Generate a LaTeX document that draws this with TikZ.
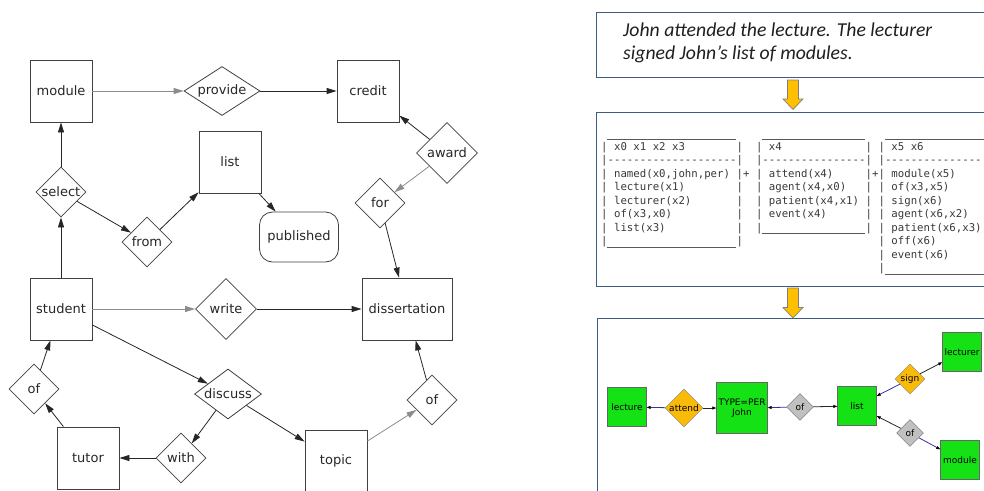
\documentclass[tikz,border=0pt]{standalone}
\usepackage{fontspec}
\setmonofont{DejaVu Sans Mono}
\newfontfamily\erfont{DejaVu Sans}
\newfontfamily\notefont{Carlito}
\usetikzlibrary{shapes,arrows.meta,positioning,calc}

\definecolor{frameblue}{RGB}{62,92,130}
\definecolor{gold}{RGB}{255,192,0}
\definecolor{thinggreen}{RGB}{20,226,20}
\definecolor{eventgold}{RGB}{250,186,10}
\definecolor{prepgray}{RGB}{192,192,192}
\definecolor{argblue}{RGB}{50,50,165}

\begin{document}
\begin{tikzpicture}[x=1pt, y=-1pt,
    entity/.style={draw=black!75, line width=0.8pt, minimum width=62pt, minimum height=62pt, inner sep=0pt, text=black!85, font=\erfont\fontsize{13}{15}\selectfont},
    relation/.style={diamond, draw=black!75, line width=0.8pt, minimum width=50pt, minimum height=50pt, inner sep=0pt, text=black!85, font=\erfont\fontsize{13}{15}\selectfont},
    property/.style={draw=black!75, line width=0.8pt, rounded corners=13pt, minimum width=79pt, minimum height=50pt, inner sep=0pt, text=black!85, font=\erfont\fontsize{13}{15}\selectfont},
    link/.style={draw=black!85, line width=0.8pt, -{Triangle[length=10pt,width=6pt]}},
    weak/.style={link, draw=black!45},
    frame/.style={draw=frameblue, line width=1.4pt, anchor=north west, inner sep=0pt},
    note/.style={font=\notefont\itshape\fontsize{19.7}{23}\selectfont, text=black!88, anchor=base west, inner sep=0pt},
    goldarrow/.style={draw=black!50, fill=gold, line width=0.7pt, line join=miter},
    drs/.style={font=\ttfamily\fontsize{10.7}{13}\selectfont, text=black!78, anchor=base west, inner sep=0pt},
    drsrule/.style={draw=black!65, line width=0.8pt},
    thing/.style={draw=black!60, fill=thinggreen, minimum size=39pt, inner sep=0pt, align=center, font=\erfont\fontsize{9}{10.5}\selectfont},
    event/.style={diamond, draw=black!50, fill=eventgold, minimum width=38pt, minimum height=38pt, inner sep=0pt, font=\erfont\fontsize{9}{10.5}\selectfont},
    prep/.style={diamond, draw=black!60, fill=prepgray, minimum width=27pt, minimum height=27pt, inner sep=0pt, font=\erfont\fontsize{9}{10.5}\selectfont},
    arg/.style={draw=black!85, line width=0.8pt, -{Triangle[length=4pt,width=3pt,black]}},
    argb/.style={arg, draw=argblue}
]
    \path[use as bounding box] (0,0) rectangle (984,490);
    \clip (0,0) rectangle (984,490);

    % ---- entities and relations
    \node[entity] (module) at (61,91) {module};
    \node[relation, minimum width=76pt, minimum height=49pt, aspect=1.5] (provide) at (222,91) {provide};
    \node[entity] (credit) at (368,91) {credit};
    \node[entity] (list) at (230,162) {list};
    \node[relation, minimum size=61pt] (award) at (447,153) {award};
    \node[relation] (select) at (61,192) {select};
    \node[relation] (for) at (380,203) {for};
    \node[relation] (from) at (147,242) {from};
    \node[property] (published) at (299,237) {published};
    \node[entity] (student) at (61,309) {student};
    \node[relation, minimum size=61pt] (write) at (226,309) {write};
    \node[entity, minimum width=90pt] (dissertation) at (407,309) {dissertation};
    \node[relation] (ofT) at (34,389) {of};
    \node[relation, minimum width=67pt, aspect=1.4] (discuss) at (228,394) {discuss};
    \node[relation] (ofD) at (432,400) {of};
    \node[entity] (tutor) at (88,458) {tutor};
    \node[relation] (with) at (181,458) {with};
    \node[entity] (topic) at (336,461) {topic};

    \draw[weak] (module) -- (provide);
    \draw[link] (provide) -- (credit);
    \draw[link] (award) -- (credit);
    \draw[weak] (award) -- (for);
    \draw[link] (for) -- (dissertation);
    \draw[link] (select) -- (module);
    \draw[link] (student) -- (select);
    \draw[link] (select) -- (from);
    \draw[link] (from) -- (list);
    \draw[link] (list) -- (published);
    \draw[weak] (student) -- (write);
    \draw[link] (write) -- (dissertation);
    \draw[link] (student) -- (discuss);
    \draw[link] (discuss) -- (with);
    \draw[link] (with) -- (tutor);
    \draw[link] (tutor) -- (ofT);
    \draw[link] (ofT) -- (student);
    \draw[link] (discuss) -- (topic);
    \draw[weak] (topic) -- (ofD);
    \draw[link] (ofD) -- (dissertation);

    % ---- sentence
    \node[frame, minimum width=420pt, minimum height=65pt] (sentence) at (596,12) {};
    \node[note] (line1) at (623,36) {John attended the lecture. The lecturer};
    \node[note] (line2) at (623,59) {signed John’s list of modules.};

    % block arrow down to the boxer output
    \draw[goldarrow] (787.5,80) -- (798.5,80) -- (798.5,99) -- (803,99) -- (793,109.5) -- (783,99) -- (787.5,99) -- cycle;

    % ---- boxer output
    \node[frame, minimum width=420pt, minimum height=174pt] (boxer) at (596,112) {};
    \foreach \k/\txt [count=\i] in {1/x0 x1 x2 x3, 3/{named(x0,john,per)}, 4/lecture(x1), 5/lecturer(x2), 6/{of(x3,x0)}, 7/list(x3)}
        \node[drs] (drsA-\i) at (613.9, 136.7+13.5*\k) {\txt};
    \foreach \k/\txt [count=\i] in {1/x4, 3/attend(x4), 4/{agent(x4,x0)}, 5/{patient(x4,x1)}, 6/event(x4)}
        \node[drs] (drsB-\i) at (768.7, 136.7+13.5*\k) {\txt};
    \foreach \k/\txt [count=\i] in {1/x5 x6, 3/module(x5), 4/{of(x3,x5)}, 5/sign(x6), 6/{agent(x6,x2)}, 7/{patient(x6,x3)}, 8/off(x6), 9/event(x6)}
        \node[drs] (drsC-\i) at (891.25, 136.7+13.5*\k) {\txt};
    \node[drs] (dashA) at (607.45,163.7) {--------------------};
    \node[drs] (dashB) at (762.25,163.7) {----------------};
    \node[drs] (dashC) at (884.8,163.7) {---------------};
    \node[drs] (plusA) at (742.9,177.2) {+};
    \node[drs] (plusB) at (871.9,177.2) {+};
    \foreach \k in {1,...,8} {
        \node[drs] (barAl-\k) at (601, 136.7+13.5*\k) {|};
        \node[drs] (barAr-\k) at (736.45, 136.7+13.5*\k) {|};
    }
    \foreach \k in {1,...,7} {
        \node[drs] (barBl-\k) at (755.8, 136.7+13.5*\k) {|};
        \node[drs] (barBr-\k) at (865.45, 136.7+13.5*\k) {|};
    }
    \foreach \k in {1,...,10}
        \node[drs] (barCl-\k) at (878.35, 136.7+13.5*\k) {|};
    \draw[drsrule] (607.45,139) -- (736.45,139);
    \draw[drsrule] (607.45,247) -- (736.45,247);
    \draw[drsrule] (762.25,139) -- (865.45,139);
    \draw[drsrule] (762.25,233.5) -- (865.45,233.5);
    \draw[drsrule] (884.8,139) -- (1000,139);
    \draw[drsrule] (884.8,274) -- (1000,274);

    % block arrow down to the graph
    \draw[goldarrow] (787.5,288) -- (798.5,288) -- (798.5,307.5) -- (803,307.5) -- (793,318) -- (783,307.5) -- (787.5,307.5) -- cycle;

    % ---- semantic graph
    \node[frame, minimum width=420pt, minimum height=190pt] (graph) at (597,318) {};
    \node[thing] (lecture) at (627,407) {lecture};
    \node[event] (attend) at (684,408) {attend};
    \node[thing, minimum size=51pt] (john) at (742,408) {TYPE=PER\\John};
    \node[prep] (ofJ) at (800,407) {of};
    \node[thing] (listG) at (857,406) {list};
    \node[event, minimum size=30pt] (sign) at (910,379) {sign};
    \node[thing] (lecturer) at (962,352) {lecturer};
    \node[prep] (ofM) at (910,433) {of};
    \node[thing] (moduleG) at (960,460) {module};

    \draw[argb] (attend) -- (lecture);
    \draw[arg] (attend) -- (john);
    \draw[argb] (ofJ) -- (john);
    \draw[arg] (ofJ) -- (listG);
    \draw[argb] (sign) -- (listG);
    \draw[arg] (sign) -- (lecturer);
    \draw[arg] (ofM) -- (listG);
    \draw[argb] (ofM) -- (moduleG);
\end{tikzpicture}
\end{document}
